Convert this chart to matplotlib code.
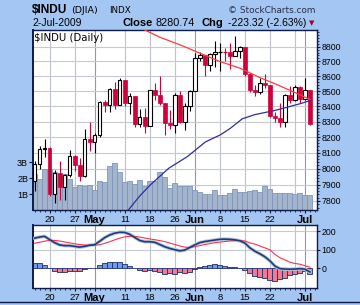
import numpy as np
import matplotlib
matplotlib.use('Agg')
import matplotlib.pyplot as plt
from matplotlib.ticker import FixedLocator, NullFormatter, FuncFormatter
from matplotlib.lines import Line2D

# ---- data (trading days 15-Apr-2009 .. 2-Jul-2009) ----
first_open = 7920.0
closes = [8029.6, 8125.4, 8131.3, 7841.7, 7969.6, 7886.6, 7957.1, 8076.3, 8025.0, 7956.7,
          8185.7, 8168.1, 8212.4, 8426.7, 8410.7, 8512.3, 8409.9, 8574.7, 8418.8, 8469.1,
          8284.9, 8331.3, 8268.6, 8504.1, 8474.9, 8422.0, 8292.1, 8277.3, 8473.5, 8300.0,
          8403.8, 8500.3, 8721.4, 8740.9, 8675.2, 8750.2, 8763.1, 8764.5, 8763.1, 8739.0,
          8770.9, 8799.3, 8612.1, 8504.7, 8497.2, 8555.6, 8539.7, 8339.0, 8322.9, 8299.9,
          8472.4, 8438.4, 8529.4, 8447.0, 8504.1, 8280.7]
highs = [8045, 8140, 8190, 8135, 7990, 8045, 7965, 8120, 8085, 8065,
         8250, 8300, 8225, 8435, 8440, 8520, 8560, 8590, 8575, 8490,
         8470, 8380, 8390, 8510, 8555, 8600, 8420, 8375, 8490, 8500,
         8420, 8510, 8755, 8766, 8740, 8755, 8843, 8825, 8790, 8825,
         8876, 8805, 8800, 8620, 8540, 8590, 8613, 8540, 8360, 8420,
         8480, 8533, 8541, 8535, 8588, 8504]
lows = [7860, 8000, 8070, 7830, 7785, 7805, 7805, 7945, 7985, 7925,
        7950, 8110, 8100, 8200, 8360, 8360, 8380, 8410, 8400, 8350,
        8265, 8265, 8227, 8268, 8440, 8410, 8213, 8250, 8225, 8290,
        8245, 8368, 8500, 8700, 8600, 8632, 8663, 8632, 8700, 8650,
        8735, 8720, 8600, 8495, 8466, 8480, 8520, 8330, 8296, 8265,
        8265, 8420, 8435, 8420, 8440, 8275]
volume_b = [2.26, 1.95, 2.57, 2.57, 2.36, 2.22, 2.22, 1.95, 1.43, 1.59,
            1.53, 1.59, 1.26, 1.80, 1.74, 2.72, 2.95, 2.36, 1.74, 1.84,
            1.64, 1.89, 1.53, 1.84, 1.84, 2.40, 2.05, 1.39, 1.68, 1.53,
            1.53, 1.53, 1.26, 1.11, 0.97, 0.97, 1.22, 0.91, 0.91, 1.09,
            1.32, 1.11, 1.11, 1.16, 1.26, 1.13, 1.47, 1.32, 1.09, 1.05,
            1.09, 1.09, 0.99, 1.09, 0.91, 0.91]

# moving averages, points (day index, value)
ma_red_x = [21.5, 25, 29, 33, 37, 41, 45, 48.5, 52, 55]
ma_red_y = [8925, 8866, 8814, 8756, 8699, 8654, 8590, 8542, 8490, 8445]
ma_blue_x = [18.6, 21, 23.1, 26.8, 30.5, 34.1, 37.1, 39.1, 41.5, 44, 46.5, 47.5, 50.5, 53.1, 55]
ma_blue_y = [7740, 7830, 7898, 8002, 8075, 8168, 8214, 8256, 8318, 8345, 8362, 8368, 8394, 8417, 8437]

macd = [162, 168, 172, 155, 138, 126, 122, 122, 118, 114,
        118, 124, 127, 145, 165, 179, 189, 194, 193, 183,
        166, 150, 143, 143, 140, 128, 116, 107, 100, 94,
        98, 112, 126, 138, 144, 148, 152, 156, 157, 156,
        153, 148, 136, 110, 92, 78, 62, 40, 12, -2,
        -4, -5, -4, -2, -5, -20]
signal = [135, 140, 146, 150, 150, 147, 142, 137, 132, 128,
          125, 124, 124, 127, 134, 143, 153, 162, 169, 172,
          172, 168, 163, 158, 154, 149, 144, 136, 128, 120,
          114, 112, 116, 122, 128, 133, 138, 141, 144, 147,
          149, 150, 147, 137, 130, 120, 110, 100, 75, 57,
          45, 33, 26, 22, 14, 6]
hist = [27, 27, 18, 0, -14, -21, -18, -14, -14, -14,
        -4, 0, 0, 18, 30, 36, 32, 32, 21, 14,
        4, -9, -14, -9, -12, -21, -32, -27, -32, -18,
        -23, -18, -4, 9, 14, 18, 21, 18, 14, 9,
        5, 4, -9, -23, -39, -45, -50, -63, -68, -57,
        -50, -36, -30, -27, -14, -28]

tick_pos = [3, 8, 12, 18, 23, 28, 32, 37, 42, 47, 54]
tick_lab = ['20', '27', 'May', '11', '18', '26', 'Jun', '8', '15', '22', 'Jul']
grid_pos = [3, 8, 12, 18, 23, 28, 32, 37, 42, 47, 52, 54]
month_lab = ['May', 'Jun', 'Jul']
price_ticks = [7800, 7900, 8000, 8100, 8200, 8300, 8400, 8500, 8600, 8700, 8800]

# ---- style ----
BG = '#A4C6F2'
NAVY = '#0E1A48'
RED = '#D0003A'
FONT = 'Liberation Sans'
plt.rcParams['font.family'] = [FONT, 'DejaVu Sans']

W_PX, H_PX = 360, 305
def rect(x0, y0, x1, y1):
    return [x0 / W_PX, 1 - y1 / H_PX, (x1 - x0) / W_PX, (y1 - y0) / H_PX]

fig = plt.figure(figsize=(3.6, 3.05), dpi=100, facecolor=BG)

ax_v = fig.add_axes(rect(33, 30, 316.5, 210))
ax = fig.add_axes(rect(33, 30, 316.5, 210), sharex=ax_v)
ax_m = fig.add_axes(rect(33, 225, 316.5, 288), sharex=ax_v)
ax.patch.set_visible(False)

x = np.arange(len(closes))
opens = [first_open] + closes[:-1]

# price axis (log)
ax.set_yscale('log')
ax.set_ylim(7745, 8916)
ax.set_xlim(-0.3, 56.3)
ax.yaxis.set_major_locator(FixedLocator(price_ticks))
ax.yaxis.set_major_formatter(FuncFormatter(lambda v, p: f'{v:.0f}'))
ax.yaxis.set_minor_locator(FixedLocator(np.arange(7760, 8920, 20)))
ax.yaxis.set_minor_formatter(NullFormatter())
ax.yaxis.tick_right()

# volume axis behind
ax_v.set_ylim(0, 11.25e9)
ax_v.set_facecolor('white')
ax_v.set_yticks([1e9, 2e9, 3e9])
ax_v.set_yticklabels(['1B', '2B', '3B'])
for s in ax_v.spines.values():
    s.set_visible(False)
ax_v.tick_params(axis='x', which='both', bottom=False, labelbottom=False)
ax_v.tick_params(axis='y', length=3, width=0.8, color=NAVY, pad=0.5, labelsize=6.5)

# grid on the bottom layer
for gx in grid_pos:
    c = '#8E99AC' if gx in (12, 32, 54) else '#BFC3CE'
    ax_v.axvline(gx, color=c, lw=0.8, zorder=0)
    ax_m.axvline(gx, color=c, lw=0.8, zorder=0)
for p in price_ticks:
    ax_v.plot([-1, 57], [p, p], transform=ax.transData, color='#C6C9D2', lw=0.8, zorder=0)

ax_v.bar(x, [v * 1e9 for v in volume_b], width=1.0, color='#A3B4CD',
         edgecolor='#7F95B8', linewidth=0.6, zorder=1)

# candles
for i in x:
    up = closes[i] >= opens[i]
    col = 'black' if up else RED
    ax.vlines(i, lows[i], highs[i], color=col, lw=0.8, zorder=3)
    lo, hi = min(opens[i], closes[i]), max(opens[i], closes[i])
    if hi - lo < 3:
        ax.hlines(lo, i - 0.38, i + 0.38, color=col, lw=0.9, zorder=4)
    elif up:
        ax.bar(i, hi - lo, bottom=lo, width=0.72, facecolor='white',
               edgecolor='black', linewidth=0.8, zorder=4)
    else:
        ax.bar(i, hi - lo, bottom=lo, width=0.78, facecolor=RED,
               edgecolor=RED, linewidth=0.5, zorder=4)

ax.plot(ma_red_x, ma_red_y, color='#FF3B3B', lw=0.9, zorder=5)
ax.plot(ma_blue_x, ma_blue_y, color='#2E2E9E', lw=0.9, zorder=5)

ax.text(0.005, 0.985, '$INDU (Daily)', transform=ax.transAxes, ha='left', va='top',
        fontsize=7.3, family='DejaVu Sans', color='black', zorder=6)

# MACD panel
ax_m.set_ylim(-106, 233)
ax_m.set_yticks([0, 100, 200])
ax_m.yaxis.tick_right()
ax_m.set_facecolor('white')
for gy in (100, 200):
    ax_m.axhline(gy, color='#C6C9D2', lw=0.8, zorder=0)
bar_cols = ['#6E9CE6' if h >= 0 else '#F27A92' for h in hist]
ax_m.bar(x, hist, width=1.0, color=bar_cols, edgecolor='#1C2F6E', linewidth=0.6, zorder=2)
ax_m.plot(x, macd, color='#B8C6DA', lw=2.6, zorder=3, solid_capstyle='round')
ax_m.plot(x, signal, color='#FF3050', lw=0.8, zorder=4)
ax_m.plot(x, macd, color='#1C3C7A', lw=1.2, zorder=5)

# shared axis cosmetics
for a in (ax, ax_m):
    for s in a.spines.values():
        s.set_color(NAVY)
        s.set_linewidth(1.0)
    a.spines['left'].set_linewidth(1.4)
    a.xaxis.set_major_locator(FixedLocator(tick_pos))
    a.xaxis.set_minor_locator(FixedLocator(np.arange(0, 57)))
    a.tick_params(axis='x', which='major', length=2.2, width=0.8, color=NAVY,
                  pad=1.2, labelsize=6.8, labelbottom=True)
    a.tick_params(axis='x', which='minor', length=1.4, width=0.6, color=NAVY)
    a.tick_params(axis='y', which='major', length=2, width=0.8, color=NAVY,
                  pad=1.5, labelsize=6.3)
    a.tick_params(axis='y', which='minor', length=1.2, width=0.6, color=NAVY)
ax.set_xticklabels(tick_lab)
for a in (ax, ax_m):
    for t in a.get_xticklabels():
        if t.get_text() in month_lab:
            t.set_fontweight('bold')
            t.set_fontsize(8)

# header
def fx(px):
    return px / W_PX
def fy(py):
    return 1 - py / H_PX

fig.text(fx(32), fy(10), '$INDU', fontsize=8.6, fontweight='bold', va='center', ha='left')
fig.text(fx(71), fy(10.5), '(DJIA)', fontsize=6.8, family='DejaVu Sans', va='center', ha='left')
fig.text(fx(109.5), fy(10.5), 'INDX', fontsize=6.3, family='DejaVu Sans', va='center', ha='left')
fig.text(fx(316), fy(10.5), '\u00a9 StockCharts.com', fontsize=6.4, family='DejaVu Sans',
         color='#2A2F4A', va='center', ha='right')
fig.text(fx(32), fy(23), '2-Jul-2009', fontsize=7.5, va='center', ha='left')
fig.text(fx(122.5), fy(23), 'Close', fontsize=8, fontweight='bold', va='center', ha='left')
fig.text(fx(155), fy(23), '8280.74', fontsize=7.8, va='center', ha='left')
fig.text(fx(201.5), fy(23), 'Chg', fontsize=8, fontweight='bold', va='center', ha='left')
fig.text(fx(227.5), fy(23), '-223.32 (-2.63%)', fontsize=7.5, va='center', ha='left')
fig.text(fx(312), fy(23.5), '\u25bc', fontsize=5, family='DejaVu Sans', color='#A8002C',
         va='center', ha='center')

fig.add_artist(Line2D([0, 1], [fy(302), fy(302)], transform=fig.transFigure,
                      color=NAVY, lw=1.0))

fig.savefig('out.png', dpi=100, facecolor=BG)
